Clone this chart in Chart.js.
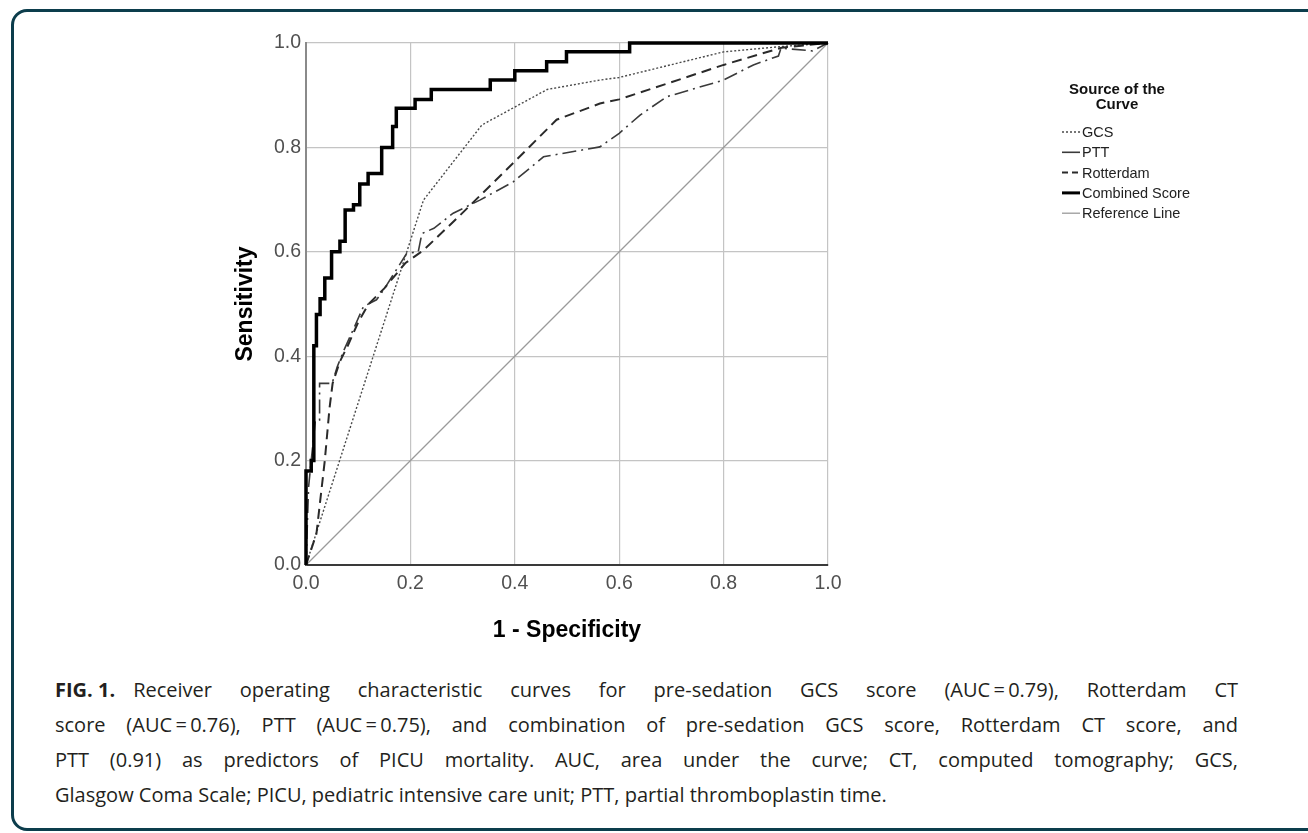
<!DOCTYPE html>
<html>
<head>
<meta charset="utf-8">
<script src="https://cdn.jsdelivr.net/npm/chart.js@4.4.0/dist/chart.umd.min.js"></script>
<style>
body { margin: 0; background: #fff; width: 1308px; height: 833px; overflow: hidden; position: relative; }
#frame { position: absolute; left: 11px; top: 9px; width: 1340px; height: 822px; border: 3px solid #0c3d4c; border-radius: 16px; box-sizing: border-box; }
#wrap { position: absolute; left: 0; top: 0; width: 1308px; height: 660px; }
#caption { position: absolute; left: 55px; top: 672px; width: 1183px; font-family: "Open Sans", sans-serif; font-size: 20px; line-height: 35px; color: #231f20; white-space: nowrap; }
#caption .j { text-align: justify; text-align-last: justify; }
#caption b { display: inline-block; margin-right: 18px; }
</style>
</head>
<body>
<div id="frame"></div>
<div id="wrap"><canvas id="roc" width="1308" height="660"></canvas></div>
<div id="caption">
<div class="j"><b>FIG. 1.</b>Receiver operating characteristic curves for pre-sedation GCS score (AUC&#8201;=&#8201;0.79), Rotterdam CT</div>
<div class="j">score (AUC&#8201;=&#8201;0.76), PTT (AUC&#8201;=&#8201;0.75), and combination of pre-sedation GCS score, Rotterdam CT score, and</div>
<div class="j">PTT (0.91) as predictors of PICU mortality. AUC, area under the curve; CT, computed tomography; GCS,</div>
<div>Glasgow Coma Scale; PICU, pediatric intensive care unit; PTT, partial thromboplastin time.</div>
</div>
<script>
// ROC curves, values (1 - specificity, sensitivity)
var tick_values = [0, 0.2, 0.4, 0.6, 0.8, 1.0];
var legend_title = ['Source of the', 'Curve'];

var gcs_fpr = [0, 0.225, 0.337, 0.462, 0.563, 0.600, 0.800, 0.908, 1.0];
var gcs_tpr = [0, 0.699, 0.843, 0.911, 0.929, 0.934, 0.983, 0.993, 1.0];

var ptt_fpr = [0, 0.005, 0.010, 0.018, 0.026, 0.026, 0.050, 0.060, 0.072, 0.090, 0.110, 0.135, 0.148, 0.193, 0.215, 0.222, 0.245, 0.282, 0.333, 0.397, 0.455, 0.563, 0.600, 0.640, 0.691, 0.800, 0.857, 0.905, 0.910, 0.970, 1.0];
var ptt_tpr = [0, 0.150, 0.200, 0.278, 0.278, 0.348, 0.348, 0.380, 0.410, 0.450, 0.495, 0.508, 0.526, 0.597, 0.600, 0.635, 0.645, 0.674, 0.699, 0.734, 0.782, 0.801, 0.827, 0.862, 0.897, 0.929, 0.958, 0.975, 0.990, 0.985, 1.0];

var rott_fpr = [0, 0.020, 0.036, 0.045, 0.051, 0.065, 0.080, 0.100, 0.120, 0.150, 0.190, 0.225, 0.289, 0.397, 0.480, 0.563, 0.600, 0.800, 0.911, 1.0];
var rott_tpr = [0, 0.060, 0.200, 0.300, 0.348, 0.390, 0.420, 0.465, 0.500, 0.530, 0.578, 0.603, 0.664, 0.770, 0.853, 0.884, 0.892, 0.958, 0.991, 1.0];

var comb_fpr = [0, 0, 0.010, 0.010, 0.015, 0.015, 0.020, 0.020, 0.027, 0.027, 0.036, 0.036, 0.049, 0.049, 0.065, 0.065, 0.075, 0.075, 0.091, 0.091, 0.103, 0.103, 0.119, 0.119, 0.145, 0.145, 0.166, 0.166, 0.173, 0.173, 0.209, 0.209, 0.240, 0.240, 0.353, 0.353, 0.400, 0.400, 0.461, 0.461, 0.499, 0.499, 0.620, 0.620, 1.0];
var comb_tpr = [0, 0.180, 0.180, 0.200, 0.200, 0.420, 0.420, 0.480, 0.480, 0.510, 0.510, 0.550, 0.550, 0.600, 0.600, 0.620, 0.620, 0.680, 0.680, 0.690, 0.690, 0.730, 0.730, 0.750, 0.750, 0.800, 0.800, 0.840, 0.840, 0.875, 0.875, 0.892, 0.892, 0.911, 0.911, 0.929, 0.929, 0.947, 0.947, 0.964, 0.964, 0.983, 0.983, 1.0, 1.0];

var ref_fpr = [0, 1];
var ref_tpr = [0, 1];

function pts(xs, ys) {
    return xs.map(function (x, i) { return {x: x, y: ys[i]}; });
}

var datasets = [
    {label: 'GCS', data: pts(gcs_fpr, gcs_tpr), borderColor: '#4a4a4a', borderWidth: 1.4, borderDash: [2, 2], order: 3},
    {label: 'PTT', data: pts(ptt_fpr, ptt_tpr), borderColor: '#3a3a3a', borderWidth: 1.6, borderDash: [14, 5, 2, 5], order: 2},
    {label: 'Rotterdam', data: pts(rott_fpr, rott_tpr), borderColor: '#2a2a2a', borderWidth: 2, borderDash: [10, 6], order: 1},
    {label: 'Combined Score', data: pts(comb_fpr, comb_tpr), borderColor: '#000', borderWidth: 3.5, borderDash: [], order: 0},
    {label: 'Reference Line', data: pts(ref_fpr, ref_tpr), borderColor: '#9a9a9a', borderWidth: 1.3, borderDash: [], order: 5}
];
// the short legend samples show these patterns
var legend_dash = [[2, 2], [], [6, 4], [], []];

datasets.forEach(function (d) {
    d.showLine = true;
    d.pointRadius = 0;
    d.fill = false;
    d.tension = 0;
    d.clip = 4;
    d.borderJoinStyle = 'miter';
});

// legend drawn beside the plot, like the SPSS output
var rocLegend = {
    id: 'rocLegend',
    afterDraw: function (chart) {
        var ctx = chart.ctx;
        var right = chart.chartArea.right;
        ctx.save();
        ctx.fillStyle = '#111';
        ctx.textAlign = 'center';
        ctx.textBaseline = 'middle';
        ctx.font = 'bold 15px "Liberation Sans", Arial, sans-serif';
        legend_title.forEach(function (t, i) {
            ctx.fillText(t, right + 289, 90 + i * 15);
        });
        ctx.textAlign = 'left';
        ctx.font = '14.5px "Liberation Sans", Arial, sans-serif';
        datasets.forEach(function (d, i) {
            var y = 132 + i * 20.3;
            ctx.beginPath();
            ctx.setLineDash(legend_dash[i]);
            ctx.lineWidth = Math.min(d.borderWidth, 3);
            ctx.strokeStyle = d.borderColor;
            ctx.moveTo(right + 234, y);
            ctx.lineTo(right + 252, y);
            ctx.stroke();
            ctx.setLineDash([]);
            ctx.fillStyle = '#222';
            ctx.fillText(d.label, right + 254, y + 1);
        });
        ctx.restore();
    }
};

var tickFont = {family: '"Liberation Sans", Arial, sans-serif', size: 19.5};
var titleFont = {family: '"Liberation Sans", Arial, sans-serif', size: 23, weight: 'bold'};

var ctx = document.getElementById('roc');
var myChart = new Chart(ctx, {
    type: 'scatter',
    data: {datasets: datasets},
    options: {
        responsive: false,
        animation: false,
        layout: {padding: {left: 232, right: 480, top: 43, bottom: 16}},
        plugins: {legend: {display: false}, tooltip: {enabled: false}},
        scales: {
            x: {
                type: 'linear', min: 0, max: 1,
                afterBuildTicks: function (s) { s.ticks = tick_values.map(function (v) { return {value: v}; }); },
                afterFit: function (s) { s.height = 79; },
                ticks: {font: tickFont, color: '#505050', padding: 7, callback: function (v) { return v.toFixed(1); }},
                grid: {color: '#c4c4c4', lineWidth: 1.2, drawTicks: false},
                border: {color: '#3a3a3a', width: 2},
                title: {display: true, text: '1 - Specificity', font: titleFont, color: '#000', padding: {top: 18, bottom: 0}}
            },
            y: {
                type: 'linear', min: 0, max: 1,
                afterBuildTicks: function (s) { s.ticks = tick_values.map(function (v) { return {value: v}; }); },
                afterFit: function (s) { s.width = 74; },
                ticks: {font: tickFont, color: '#505050', padding: 5, callback: function (v) { return v.toFixed(1); }},
                grid: {color: '#c4c4c4', lineWidth: 1.2, drawTicks: false},
                border: {color: '#8a8a8a', width: 2},
                title: {display: true, text: 'Sensitivity', font: titleFont, color: '#000', padding: {top: 0, bottom: 0}}
            }
        }
    },
    plugins: [rocLegend]
});
</script>
</body>
</html>
